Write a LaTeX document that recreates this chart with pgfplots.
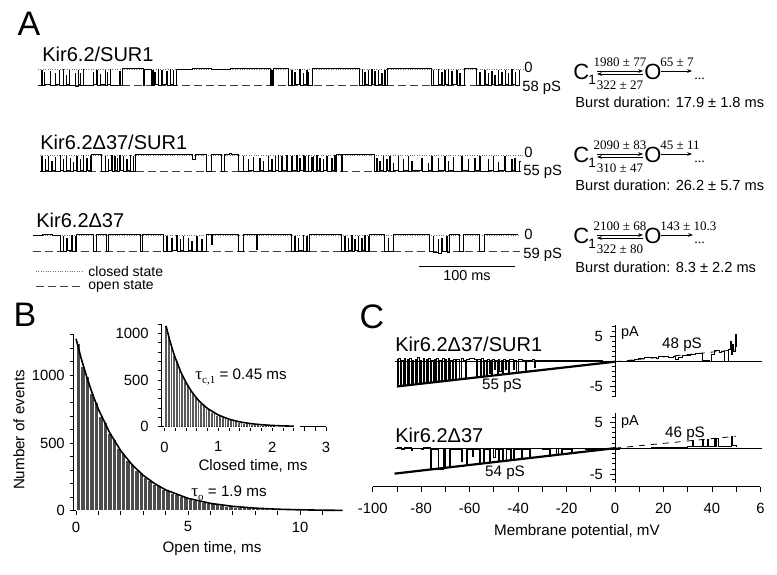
\documentclass[border=0pt]{standalone}
\usepackage{fontspec}
\setmainfont{Liberation Sans}
\newfontfamily\tms{Liberation Serif}
\usepackage{pgfplots}
\pgfplotsset{compat=1.18}
\usetikzlibrary{arrows.meta}
\newcommand{\fs}[1]{\fontsize{#1}{#1}\selectfont}
\pgfplotsset{
  trace/.style={scale only axis, hide axis, clip=false, ymin=-1.5, ymax=0.5, height=16pt, anchor=south west},
  tr/.style={const plot, black, line width=0.45pt},
  cl/.style={black!55, dash pattern=on 0.4pt off 0.8pt, line width=0.4pt},
  op/.style={black!75, dash pattern=on 4pt off 2pt, line width=0.45pt},
  every tick label/.append style={font=\fs{7.4}},
  tick style={black, line width=0.4pt},
}
\newcommand{\scheme}[5]{%
  \node[anchor=west, inner sep=0, font=\fs{11}] at (573,#1) {C};
  \node[anchor=west, inner sep=0, font=\fs{6.8}] at (588,#1+8) {1};
  \node[inner sep=0, font=\tms\fs{6.5}] at (620,#1-10) {#2};
  \node[inner sep=0, font=\tms\fs{6.5}] at (620,#1+13) {#3};
  \draw[-{Stealth[length=2.4pt,width=1.8pt]}, line width=0.3pt] (597,#1-1) -- (643,#1-1);
  \draw[-{Stealth[length=2.4pt,width=1.8pt]}, line width=0.3pt] (643,#1+2) -- (597,#1+2);
  \node[anchor=west, inner sep=0, font=\fs{11}] at (644,#1) {O};
  \node[anchor=west, inner sep=0, font=\tms\fs{6.5}] at (660,#1-10) {#4};
  \draw[-{Stealth[length=2.4pt,width=1.8pt]}, line width=0.3pt] (661,#1-1) -- (#5,#1-1);
  \node[anchor=west, inner sep=0, font=\tms\fs{7}] at (694,#1+7) {...};
}
\begin{document}
\begin{tikzpicture}
% ---------------- Panel A traces ----------------
\begin{axis}[trace, width=241pt, xmin=0, xmax=500, at={(19pt,-46.5pt)}]
\addplot[cl] coordinates {(0,0)(503,0)};
\addplot[op] coordinates {(0,-1)(500,-1)};
\addplot[tr] coordinates {(0,-1)(3.8,-0.1)(4.4,-1.02)(6.2,-0.2)(6.8,-0.97)(12.4,-0.15)(13,-1.03)(17.6,-0.3)(18.2,-0.98)(22.1,-0.1)(22.7,-1.05)(26.2,-0.05)(26.8,-1)(29,-0.4)(29.6,-0.96)(32.5,-0.1)(33.1,-1.02)(38.4,-0.25)(39,-1.08)(41.8,-0.1)(42.4,-0.98)(43.6,-0.3)(44.2,-1.04)(47,-0.05)(47.6,-1)(57.3,-0.2)(57.9,-0.97)(60.9,-0.1)(61.5,-1.03)(64.3,-0.35)(64.9,-0.99)(69.5,-0.1)(70.1,-1.04)(71.9,-0.2)(72.5,-0.98)(74.7,-0.05)(75.3,-1.02)(85,-0.15)(85.6,-1)(88.1,0.02)(108.9,-1)(110,0)(118.2,-1)(118.9,-0.1)(119.5,-1.02)(121.3,-0.2)(121.9,-0.97)(124.8,-0.05)(125.4,-1.03)(128.3,-0.1)(128.9,-0.99)(133.5,-0.15)(134.1,-1.02)(136.9,-0.05)(137.5,-0.98)(140.3,-0.1)(140.9,-1.01)(144.1,0)(160,0.03)(180,-0.02)(200,0.02)(220,0.04)(241.6,-1)(242.4,-0.1)(243,-1)(244.7,0.01)(259.3,-1)(263.1,-0.1)(263.7,-1.03)(266.5,-0.2)(267.1,-0.98)(271.7,-0.05)(272.3,-1.04)(275.1,-0.3)(275.7,-0.97)(278.6,-0.1)(279.2,-1.02)(280.3,-0.2)(280.9,-1)(285.2,0.02)(300,0.04)(315,0.01)(333.9,-1)(336.3,-0.05)(336.9,-1.02)(339.1,-0.2)(339.7,-0.98)(342.5,-0.1)(343.1,-1.03)(346,-0.05)(346.6,-0.99)(349.4,-0.15)(350,-1.02)(352.9,-0.1)(353.5,-0.97)(356.4,-0.25)(357,-1.03)(359.8,-0.1)(360.4,-1)(363,0.02)(380,0.03)(395,0.01)(408.6,-1)(409.9,-0.1)(410.5,-1.02)(415.1,-0.05)(415.7,-0.98)(418.6,-0.2)(419.2,-1.04)(422,-0.1)(422.6,-0.97)(425.5,-0.05)(426.1,-1.02)(429,-0.15)(429.6,-0.99)(434.2,-0.1)(434.8,-1.03)(437.6,-0.3)(438.2,-1)(442.8,0.01)(455.2,-1)(458.3,-0.2)(458.9,-1.02)(463.5,-0.1)(464.1,-0.98)(467,-0.3)(467.6,-1.03)(470.5,-0.15)(471.1,-0.97)(473.9,-0.4)(474.5,-1.04)(477.3,-0.1)(477.9,-0.99)(480.9,-0.2)(481.5,-1.02)(484.4,-0.1)(485,-0.98)(487.8,-0.3)(488.4,-1.03)(491.3,-0.05)(491.9,-0.97)(494.9,-0.2)(495.5,-1.02)(499.4,-0.1)(500,-0.1)};
\end{axis}
\begin{axis}[trace, width=241pt, xmin=0, xmax=500, at={(19pt,-89.5pt)}]
\addplot[cl] coordinates {(2,0)(503,0)};
\addplot[op] coordinates {(2,-1)(501,-1)};
\addplot[tr] coordinates {(2,-1)(3.8,-0.1)(4.4,-1.02)(7.3,-0.3)(7.9,-0.98)(10.7,-0.1)(11.3,-1.04)(14.2,-0.4)(14.8,-0.97)(17.6,-0.15)(18.2,-1.02)(22.8,-0.05)(23.4,-0.99)(26.2,-0.3)(26.8,-1.03)(29,-0.1)(29.6,-0.98)(33.2,-0.2)(33.8,-1.02)(36.6,-0.45)(37.2,-0.97)(40.1,-0.1)(40.7,-1.03)(43.6,-0.3)(44.2,-0.99)(47,-0.05)(47.6,-1.02)(50.5,-0.2)(51.1,-0.98)(53.9,-0.1)(54.5,-1)(55.7,0.02)(66.1,-1)(69.5,-0.1)(70.1,-1.02)(72.9,-0.3)(73.5,-0.97)(76.4,-0.05)(77,-1.03)(79.8,-0.1)(80.4,-0.99)(82.2,-0.2)(82.8,-1.02)(85,-0.05)(85.6,-0.98)(88.5,-0.1)(89.1,-1.03)(92,-0.3)(92.6,-0.99)(95.4,-0.05)(96,-1.02)(98.8,-0.1)(99.4,-1)(100.6,0.02)(120,0.05)(140,0.03)(160.7,-0.3)(163.8,0.02)(175,-1)(180.1,0.01)(189.8,-1)(192.9,0.02)(199.1,0.12)(201,0.03)(207.7,-1)(212.9,-0.1)(213.5,-1.02)(218.1,-0.3)(218.7,-0.97)(223.3,-0.15)(223.9,-1.03)(230.2,-0.2)(230.8,-0.98)(233.6,-0.4)(234.2,-1.02)(238.8,-0.1)(239.4,-0.99)(242.3,-0.3)(242.9,-1.03)(245.8,-0.1)(246.4,-0.97)(249.2,-0.05)(249.8,-1.02)(252.7,-0.1)(253.3,-0.98)(257.9,-0.05)(258.5,-1.03)(263.1,-0.1)(263.7,-0.99)(268.3,-0.05)(268.9,-1.02)(271.7,-0.2)(272.3,-0.97)(275.1,-0.05)(275.7,-1.03)(276.9,-0.1)(277.5,-1)(280.3,-0.05)(280.9,-1.02)(283.8,-0.15)(284.4,-0.98)(285.5,-0.1)(286.1,-1.03)(289,-0.05)(289.6,-0.99)(292.4,-0.2)(293,-1.02)(295.9,-0.3)(296.5,-0.97)(299.4,-0.1)(300,-1.02)(304.6,-0.2)(305.2,-0.99)(308,-0.05)(308.6,-1)(309.7,0.02)(314.9,-1)(316.3,0.03)(330,0.05)(340,0.04)(349.5,-1)(351.2,-0.2)(351.8,-1.02)(354.7,-0.4)(355.3,-0.97)(358.1,-0.1)(358.7,-1.03)(361.6,-0.3)(362.2,-0.99)(365,-0.1)(365.6,-1.02)(368.4,-0.5)(369,-0.98)(373.6,-0.1)(374.2,-1.03)(378.8,-0.3)(379.4,-0.97)(384,-0.1)(384.6,-1.02)(387.5,-0.4)(388.1,-0.99)(397.9,-0.2)(398.5,-1.03)(404.7,-0.5)(405.3,-0.98)(408.3,-0.1)(408.9,-1.02)(415.1,-0.2)(415.7,-0.97)(422,-0.1)(422.6,-1.03)(425.5,-0.4)(426.1,-0.99)(430.7,-0.15)(431.3,-1.02)(439.4,-0.1)(440,-0.98)(446.2,-0.3)(446.8,-1.03)(453.2,-0.2)(453.8,-0.97)(458.3,-0.1)(458.9,-1.02)(467,-0.3)(467.6,-0.99)(472.2,-0.1)(472.8,-1.03)(477.3,-0.45)(477.9,-0.98)(484.3,-0.1)(484.9,-1.02)(491.2,-0.3)(491.8,-0.97)(494.6,-0.2)(495.2,-1.03)(499.8,-0.4)(500.4,-0.4)};
\end{axis}
\begin{axis}[trace, width=243.5pt, xmin=-5.2, xmax=500, at={(16.5pt,-129.5pt)}]
\addplot[cl] coordinates {(-5.2,0)(500,0)};
\addplot[op] coordinates {(-5.2,-1)(500,-1)};
\addplot[tr] coordinates {(-5.2,0)(5,0.03)(15,-0.02)(22.8,-1)(26.2,-0.1)(26.8,-1.02)(29.8,-0.2)(30.4,-0.98)(34.9,-0.05)(35.5,-1.03)(38.4,-0.1)(39,-1)(40.1,0.02)(50,0.04)(57.3,-1)(60.9,0.01)(71.2,-1)(72.9,0.02)(90,0.04)(105.8,-1)(108.2,0.01)(120,0.03)(129.9,-1)(133.5,-0.1)(134.1,-1.02)(138.6,-0.2)(139.2,-0.98)(143.8,-0.05)(144.4,-1.04)(147.3,-0.3)(147.9,-0.97)(150.7,-0.1)(151.3,-1.03)(155.9,-0.2)(156.5,-0.99)(159.4,-0.4)(160,-1.02)(164.6,-0.1)(165.2,-1.05)(169.8,-0.3)(170.4,-1)(174.9,0.02)(180.1,-0.6)(180.7,0.02)(195,0.04)(207.7,-1)(212.9,0.01)(226.8,-0.9)(227.4,0.02)(245,0.03)(263.1,-1)(266.5,-0.1)(267.1,-1.02)(269.9,-0.2)(270.5,-0.98)(275.1,-0.05)(275.7,-1.03)(278.6,-0.1)(279.2,-1)(282,0.02)(300,0.04)(314.9,-1)(318.4,-0.1)(319,-1.02)(321.8,-0.2)(322.4,-0.98)(325.3,-0.05)(325.9,-1.03)(328.7,-0.3)(329.3,-0.99)(332.1,-0.1)(332.7,-1.02)(335.7,-0.2)(336.3,-0.98)(339.1,-0.05)(339.7,-1.03)(342.5,-0.1)(343.1,-1)(344.3,0.02)(352,0.04)(359.8,-1)(363.3,-0.2)(363.9,-1.02)(368.4,0.02)(385,0.04)(406.5,-1)(409.9,-0.1)(410.5,-1.1)(415.1,-0.3)(415.7,-1.15)(418.6,-0.2)(419.2,-1.05)(423.8,-0.1)(424.4,-1.08)(427.2,0.02)(437.6,-1)(441.1,0.01)(458.4,-1)(463.5,0.02)(480,0.04)(497.8,0.02)};
\draw[line width=0.4pt] (axis cs:395,-1.94) -- (axis cs:495,-1.94);
\end{axis}
% ---------------- Panel B ----------------
\begin{axis}[scale only axis, anchor=south west, at={(36.9pt,-255.35pt)},
  width=134.4pt, height=88pt, xmin=-0.1, xmax=11.9, ymin=0, ymax=1300,
  axis x line=bottom, axis y line=left, axis line style={-, line width=0.5pt},
  tick align=outside, major tick length=2pt, minor tick length=2pt,
  xtick={0,5,10}, xticklabels={0,5,10}, minor xtick={1,2,3,4,6,7,8,9,11},
  ytick={0,500,1000}, yticklabels={0,500,1000}, minor ytick={100,200,300,400,600,700,800,900,1100,1200,1300},
  yticklabel style={xshift=1pt}, clip=false]
\addplot[ybar interval, fill=black!70, draw=white, line width=0.22pt] coordinates {
(0,1240)(0.2,1070)(0.4,990)(0.6,870)(0.8,800)(1,700)(1.2,652)(1.4,570)(1.6,525)(1.8,460)
(2,428)(2.2,372)(2.4,345)(2.6,300)(2.8,282)(3,245)(3.2,228)(3.4,198)(3.6,185)(3.8,160)
(4,150)(4.2,130)(4.4,121)(4.6,105)(4.8,98)(5,85)(5.2,80)(5.4,68)(5.6,65)(5.8,56)
(6,52)(6.2,45)(6.4,42)(6.6,36)(6.8,35)(7,29)(7.2,28)(7.4,24)(7.6,23)(7.8,19)
(8,18)(8.2,16)(8.4,15)(8.6,12)(8.8,12)(9,10)(9.2,10)(9.4,8)(9.6,8)(9.8,7)
(10,6)(10.2,5)(10.4,5)(10.6,4)(10.8,4)(11,3)(11.2,3)(11.4,3)(11.6,2)(11.8,2)(11.9,2)};
\addplot[black, line width=0.8pt] coordinates {(0,1270)(0.25,1113)(0.5,976)(0.75,855)(1,749)(1.5,576)(2,442)(2.5,340)(3,261)(3.5,201)(4,154)(5,91)(6,54)(7,32)(8,19)(9,11)(10,6.6)(11,3.9)(11.9,2.4)};
\end{axis}
\begin{axis}[scale only axis, anchor=south west, at={(80.85pt,-213.35pt)},
  width=82.2pt, height=51.35pt, xmin=-0.05, xmax=3, ymin=0, ymax=1100,
  axis x line=bottom, axis y line=left, axis line style={-, line width=0.5pt},
  tick align=outside, major tick length=2pt, minor tick length=2pt,
  xtick={0,1,2,3}, xticklabels={0,1,2,3}, minor xtick={0.2,0.4,0.6,0.8,1.2,1.4,1.6,1.8,2.2,2.4,2.6,2.8},
  ytick={0,500,1000}, yticklabels={0,500,1000}, minor ytick={100,200,300,400,600,700,800,900,1100},
  xticklabel style={yshift=-2pt}, yticklabel style={xshift=-1pt}, clip=false]
\addplot[ybar interval, fill=black!65, draw=white, line width=0.15pt] coordinates {
(0,1085)(0.05,960)(0.1,885)(0.15,770)(0.2,712)(0.25,610)(0.3,570)(0.35,490)(0.4,455)(0.45,392)
(0.5,365)(0.55,312)(0.6,292)(0.65,250)(0.7,235)(0.75,200)(0.8,188)(0.85,160)(0.9,151)(0.95,128)
(1,121)(1.05,102)(1.1,97)(1.15,82)(1.2,78)(1.25,65)(1.3,62)(1.35,52)(1.4,50)(1.45,42)
(1.5,40)(1.55,34)(1.6,32)(1.65,27)(1.7,26)(1.75,21)(1.8,21)(1.85,17)(1.9,16)(1.95,13)
(2,13)(2.05,11)(2.1,10)(2.15,8)(2.2,8)(2.25,7)(2.3,6)(2.35,5)(2.4,5)(2.45,4)(2.5,4)};
\addplot[black, line width=0.8pt] coordinates {(0.03,1080)(0.1,924)(0.15,827)(0.2,740)(0.3,592)(0.4,474)(0.5,380)(0.6,304)(0.7,244)(0.8,195)(1,125)(1.2,80)(1.4,51)(1.6,33)(1.8,21)(2,13.5)(2.2,8.7)(2.4,5.6)};
\end{axis}
% ---------------- Panel C ----------------
\begin{axis}[scale only axis, anchor=south west, at={(186.35pt,-243.35pt)},
  width=193.85pt, height=10pt, xmin=-100, xmax=60, ymin=0, ymax=1,
  axis x line=bottom, axis y line=none, axis line style={-, line width=0.5pt},
  tick align=outside, major tick length=2.5pt, minor tick length=2.5pt,
  xtick={-100,-80,-60,-40,-20,0,20,40,60}, xticklabels={-100,-80,-60,-40,-20,0,20,40,6},
  minor xtick={-90,-70,-50,-30,-10,10,30,50}, xticklabel style={yshift=-2pt}]
\addplot[draw=none] coordinates {(0,0.5)};
\end{axis}
\begin{axis}[scale only axis, anchor=south west, at={(186.35pt,-198.35pt)},
  width=193.85pt, height=35.75pt, xmin=-100, xmax=60, ymin=-7, ymax=7.3,
  axis x line=none, axis y line=center, axis line style={-, line width=0.5pt},
  tick align=outside, major tick length=2.5pt, minor tick length=1.5pt,
  ytick={-5,5}, yticklabels={-5,5}, minor ytick={-7,-6,-4,-3,-2,-1,0,1,2,3,4,6,7},
  clip=false]
\addplot[black, line width=0.4pt] coordinates {(-91,0)(60.5,0)};
\addplot[const plot, black, line width=0.45pt] coordinates {(-90,0.5)(-89.6,-4.9)(-89.2,0.6)(-88.6,-4.8)(-88.2,0.3)(-87.5,-4.8)(-87,0.7)(-86.3,-4.7)(-85.8,0.4)(-85.2,-4.6)(-84.8,0.6)(-84.2,-4.6)(-83.6,0.2)(-83,-4.5)(-82.5,0.5)(-82,-4.5)(-81.4,0.8)(-80.8,-4.4)(-80.3,0.3)(-79.7,-4.4)(-79.2,0.6)(-78.5,-4.3)(-78,0.4)(-77.4,-4.3)(-76.9,0.7)(-76.2,-4.2)(-75.8,0.2)(-75.1,-4.1)(-74.6,0.5)(-74,-4.1)(-73.5,0.6)(-72.9,-4)(-72.3,0.3)(-71.7,-3.9)(-71.2,0.7)(-70.5,-3.9)(-70,0.4)(-69.4,-3.8)(-68.9,0.6)(-68.3,-3.8)(-67.8,0.2)(-67.1,-3.7)(-66.5,0.5)(-66,-3.6)(-65.4,0.4)(-64,-3.5)(-63.5,0.6)(-62.5,0.3)(-61.8,-3.4)(-61.3,0.5)(-60,0.6)(-58,0.5)(-57.3,-3.1)(-56.8,0.4)(-55.5,-3.05)(-55,0.6)(-54.2,-3)(-53.8,0.3)(-53,-2.9)(-52.5,0.5)(-52,-2.3)(-51.5,0.2)(-50.9,-2.8)(-50.4,0.5)(-49.8,-1.5)(-49.3,0.3)(-48.7,-2.7)(-48.2,0.4)(-47.5,-2)(-47,0.2)(-46.4,-2.5)(-45.9,0.5)(-45.2,-1.6)(-44.7,0.3)(-44,-2.4)(-43.5,0.4)(-42,-1.5)(-41.5,0.3)(-40.5,-2.2)(-40,0.4)(-38,0.3)(-37,-1.9)(-36.5,0.3)(-34,0.4)(-33.2,-1.2)(-32.8,0.3)(-30,0.3)(-28,0.2)(-25,0.3)(-22,0.2)(-20,0.3)(-15,0.2)(-10,0.2)(-5,0.1)(0,0)(3,0.15)(6,0.3)(8,0.4)(9.5,0.7)(12,0.8)(15,0.9)(17,0.6)(18,1.0)(22,0.9)(24,1.1)(25,0.5)(26,0.9)(28,1.3)(30,1.2)(31,1.4)(33,1.7)(35,1.6)(36,0.2)(39,0.1)(40,1.5)(41,2.2)(43,1.8)(44,2.0)(45,0.1)(46,0.1)(47,2.5)(47.5,4.0)(48,1.5)(48.5,3.5)(49,2.0)(49.5,5.5)(50,3)};
\addplot[black, line width=1.1pt] coordinates {(-90,-4.95)(0,0)};
\addplot[black, dashed, line width=0.4pt] coordinates {(0,0)(50,2.4)};
\end{axis}
\begin{axis}[scale only axis, anchor=south west, at={(186.35pt,-241.5pt)},
  width=193.85pt, height=35.1pt, xmin=-100, xmax=60, ymin=-6.7, ymax=6.8,
  axis x line=none, axis y line=center, axis line style={-, line width=0.5pt},
  tick align=outside, major tick length=2.5pt, minor tick length=1.5pt,
  ytick={-5,5}, yticklabels={-5,5}, minor ytick={-6,-4,-3,-2,-1,0,1,2,3,4,6},
  clip=false]
\addplot[black, line width=0.4pt] coordinates {(-91,0)(60.5,0)};
\addplot[const plot, black, line width=0.45pt] coordinates {(-90,0.1)(-88,-0.3)(-87,0.1)(-84,-0.4)(-83.5,0)(-80,-0.2)(-79,0.1)(-76.2,-3.9)(-75.8,-0.2)(-72.8,-4)(-71,-0.3)(-70.5,-3.8)(-69.8,-0.1)(-68.3,-3.7)(-67.8,-0.2)(-65,-0.3)(-63.5,-2.5)(-63,-0.1)(-61.5,-3.3)(-61,-0.2)(-59,-1.5)(-58.6,-0.2)(-56,-3.0)(-55.5,-0.1)(-54.5,-3)(-54,-0.2)(-52,-2.8)(-51.6,-0.1)(-50,-1.8)(-49.5,-0.2)(-48,-2.6)(-47.6,-0.2)(-46.5,-2.5)(-46,-0.1)(-45,-2.4)(-44.6,-0.2)(-43,-2.4)(-42.6,-0.1)(-42,-2.3)(-41.5,-0.2)(-38.5,-2.1)(-38,-0.2)(-35.5,-1.9)(-35,-0.1)(-30,-0.2)(-27,-1.5)(-26.6,-0.1)(-24,-1.2)(-23.5,-0.1)(-22,-1.1)(-21.6,-0.2)(-18,-0.9)(-17.5,-0.1)(-12,-0.3)(-8,-0.3)(-3,-0.2)(0,-0.3)(2,0)(5,-0.1)(10,0)(15,0.1)(20,0.1)(25,0.1)(28,0.2)(30,0.3)(32,1.5)(32.5,0.3)(35,0.4)(36,1.6)(36.5,0.3)(38,1.7)(38.5,0.3)(41,1.8)(41.5,0.4)(42,1.9)(42.5,0.3)(45,0.4)(48,2.2)(48.5,0.5)(50,0.4)};
\addplot[black, line width=1.1pt] coordinates {(-91,-4.9)(0,0)};
\addplot[black, dashed, line width=0.4pt] coordinates {(0,0)(50,2.3)};
\end{axis}
% ---------------- texts ----------------
\begin{scope}[x=0.5pt, y=-0.5pt]
\node[font=\fs{17}] at (29,24) {A};
\node[font=\fs{17}] at (25,315) {B};
\node[font=\fs{17}] at (372,317) {C};
\node[anchor=west, inner sep=0, font=\fs{10}] at (42,54) {Kir6.2/SUR1};
\node[anchor=west, inner sep=0, font=\fs{10}] at (40,142.5) {Kir6.2Δ37/SUR1};
\node[anchor=west, inner sep=0, font=\fs{10}] at (36,220) {Kir6.2Δ37};
\node[anchor=west, inner sep=0, font=\fs{7.4}] at (524,67) {0};
\node[anchor=west, inner sep=0, font=\fs{7.4}] at (522,88) {58 pS};
\node[anchor=west, inner sep=0, font=\fs{7.4}] at (524,152) {0};
\node[anchor=west, inner sep=0, font=\fs{7.4}] at (523,172) {55 pS};
\node[anchor=west, inner sep=0, font=\fs{7.4}] at (524,234) {0};
\node[anchor=west, inner sep=0, font=\fs{7.4}] at (523,255) {59 pS};
\node[font=\fs{7.2}] at (467,276) {100 ms};
\draw[black!55, dash pattern=on 0.4pt off 0.8pt, line width=0.4pt] (36,271) -- (82,271);
\draw[black!75, dash pattern=on 4pt off 2pt, line width=0.45pt] (36,286) -- (82,286);
\node[anchor=west, inner sep=0, font=\fs{7}] at (88,271) {closed state};
\node[anchor=west, inner sep=0, font=\fs{7}] at (88,286) {open state};
\scheme{72}{1980 ± 77}{322 ± 27}{65 ± 7}{692}
\scheme{155}{2090 ± 83}{310 ± 47}{45 ± 11}{692}
\scheme{236}{2100 ± 68}{322 ± 80}{143 ± 10.3}{693}
\node[anchor=west, inner sep=0, font=\fs{7.3}] at (575,102) {Burst duration: 17.9 ± 1.8 ms};
\node[anchor=west, inner sep=0, font=\fs{7.3}] at (575,185) {Burst duration: 26.2 ± 5.7 ms};
\node[anchor=west, inner sep=0, font=\fs{7.3}] at (575,267) {Burst duration: 8.3 ± 2.2 ms};
% panel B texts
\node[rotate=90, font=\fs{7.6}] at (19,430) {Number of events};
\node[font=\fs{7.6}] at (212,549) {Open time, ms};
\node[font=\fs{7.6}] at (253,466) {Closed time, ms};
\node[anchor=west, inner sep=0, font=\fs{7.6}] at (195,377) {{\tms\fs{8.5}τ}\raisebox{-0.5ex}{\tms\fs{5.5}c,1} = 0.45 ms};
\node[anchor=west, inner sep=0, font=\fs{7.6}] at (191,493) {{\tms\fs{8.5}τ}\raisebox{-0.5ex}{\tms\fs{5.5}o} = 1.9 ms};
% panel C texts
\node[anchor=west, inner sep=0, font=\fs{10}] at (395,344.5) {Kir6.2Δ37/SUR1};
\node[anchor=west, inner sep=0, font=\fs{10}] at (395,435) {Kir6.2Δ37};
\node[font=\fs{7.6}] at (502,386) {55 pS};
\node[font=\fs{7.6}] at (682,345) {48 pS};
\node[font=\fs{7.6}] at (685,434) {46 pS};
\node[font=\fs{7.6}] at (505,473) {54 pS};
\node[font=\fs{7.2}] at (630,333) {pA};
\node[font=\fs{7.2}] at (630,422) {pA};
\node[font=\fs{7.6}] at (577,532) {Membrane potential, mV};
\end{scope}
\pgfresetboundingbox
\path (0,0) rectangle (388.5pt,-287pt);
\end{tikzpicture}
\end{document}
